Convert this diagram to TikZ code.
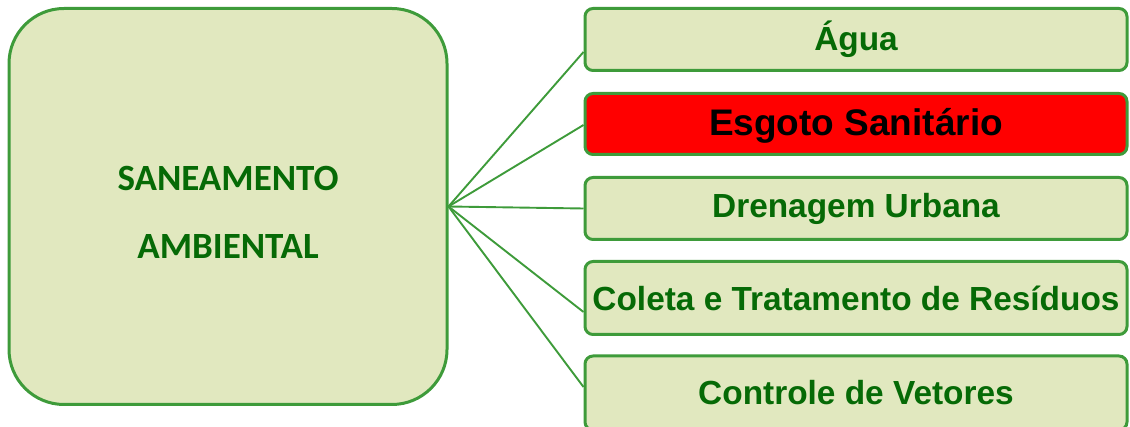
\documentclass[tikz,border=0pt]{standalone}
\usepackage{fontspec}
\setmainfont{Liberation Sans}
\newfontfamily\calib{Carlito}
\definecolor{edge}{RGB}{62,155,58}
\definecolor{leaf}{RGB}{225,232,191}
\definecolor{ink}{RGB}{6,106,6}
\definecolor{alert}{RGB}{255,0,0}
\begin{document}
\begin{tikzpicture}[x=1pt,y=-1pt,
  mainbox/.style={draw=edge,line width=3pt,fill=leaf,rounded corners=55pt,
    minimum width=438pt,minimum height=396pt,inner sep=0pt},
  maintext/.style={text=ink,font=\calib\bfseries\fontsize{37}{68}\selectfont,align=center,inner sep=0pt},
  itembox/.style={draw=edge,line width=3pt,fill=leaf,rounded corners=8pt,
    minimum width=542pt,inner sep=0pt,text=ink,font=\bfseries\fontsize{33.4}{40}\selectfont},
  hotbox/.style={itembox,fill=alert,text=black,font=\bfseries\fontsize{37}{44}\selectfont},
  link/.style={draw=edge,line width=1.9pt}]
\useasboundingbox (0,0) rectangle (1130,427);
\clip (0,0) rectangle (1130,427);
\node[mainbox] (L) at (228,206.5) {};
\node[maintext] (T) at (228,212) {SANEAMENTO\\AMBIENTAL};
\node[itembox,minimum height=62pt] (b1) at (856,39.5) {Água};
\node[hotbox,minimum height=61pt,text depth=4pt] (b2) at (856,124) {Esgoto Sanitário};
\node[itembox,minimum height=62pt] (b3) at (856,208.5) {Drenagem Urbana};
\node[itembox,minimum height=73pt] (b4) at (856,298) {Coleta e Tratamento de Resíduos};
\node[itembox,minimum height=74pt] (b5) at (856,393) {Controle de Vetores};
\draw[link] (L.east) -- ([yshift=-12.5pt]b1.west);
\draw[link] (L.east) -- ([yshift=-1pt]b2.west);
\draw[link] (L.east) -- (b3.west);
\draw[link] (L.east) -- ([yshift=-14pt]b4.west);
\draw[link] (L.east) -- ([yshift=6pt]b5.west);
\end{tikzpicture}
\end{document}
